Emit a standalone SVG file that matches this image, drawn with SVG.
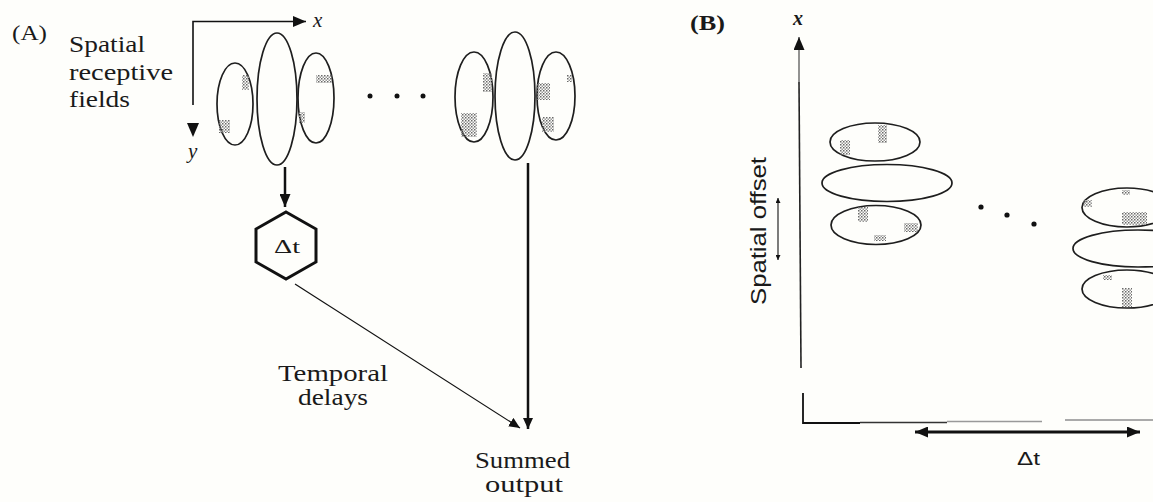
<svg xmlns="http://www.w3.org/2000/svg" width="1153" height="502" viewBox="0 0 1153 502">
<defs>
<style>
.serif{font-family:"Liberation Serif","Times New Roman",serif;fill:#1a1a1a;}
.sans{font-family:"Liberation Sans",Arial,sans-serif;fill:#1a1a1a;}
.rf{fill:none;stroke:#1e1e1e;stroke-width:1.7;}
.st{fill:url(#stip);}
.ln{fill:none;stroke:#111;}
</style>
<pattern id="stip" width="3" height="3" patternUnits="userSpaceOnUse">
<rect width="1.5" height="1.5" fill="#6a6a6a"/>
<rect x="1.5" y="1.5" width="1.5" height="1.5" fill="#9a9a9a"/>
</pattern>
<marker id="ah" markerUnits="userSpaceOnUse" markerWidth="13" markerHeight="11" refX="13" refY="5.5" orient="auto-start-reverse">
<path d="M0,0 L13,5.5 L0,11 Z" fill="#111"/>
</marker>
<marker id="ahs" markerUnits="userSpaceOnUse" markerWidth="11" markerHeight="10" refX="11" refY="5" orient="auto">
<path d="M0,0 L11,5 L0,10 Z" fill="#111"/>
</marker>
<marker id="aht" markerUnits="userSpaceOnUse" markerWidth="5" markerHeight="5" refX="5" refY="2.5" orient="auto-start-reverse">
<path d="M0,0 L5,2.5 L0,5 Z" fill="#111"/>
</marker>
</defs>
<rect width="1153" height="502" fill="#fefefb"/>

<!-- Panel A -->
<g id="label-A"><text class="serif" x="12" y="40" font-size="22" textLength="35" lengthAdjust="spacingAndGlyphs">(A)</text></g>
<g id="label-spatial-rf">
<text class="serif" x="69" y="52" font-size="23" textLength="76" lengthAdjust="spacingAndGlyphs">Spatial</text>
<text class="serif" x="69" y="80" font-size="23" textLength="104" lengthAdjust="spacingAndGlyphs">receptive</text>
<text class="serif" x="69" y="107" font-size="23" textLength="61" lengthAdjust="spacingAndGlyphs">fields</text>
</g>
<g id="axes-A">
<path class="ln" d="M193,105 V21.5 H306" stroke-width="1.6" marker-end="url(#ah)"/>
<path d="M187,123 L199,123 L193,137 Z" fill="#111"/>
<text class="serif" x="313" y="27" font-size="21" font-style="italic">x</text>
<text class="serif" x="188" y="158" font-size="21" font-style="italic">y</text>
</g>
<g id="rf-group-1">
<ellipse class="rf" cx="235" cy="104" rx="18" ry="41"/>
<ellipse class="rf" cx="277" cy="99" rx="20" ry="66"/>
<ellipse class="rf" cx="316" cy="98" rx="18" ry="45"/>
<rect class="st" x="242" y="75" width="7" height="15"/>
<rect class="st" x="219" y="120" width="11" height="13"/>
<rect class="st" x="316" y="75" width="16" height="8"/>
<rect class="st" x="299" y="112" width="6" height="11"/>
</g>
<g id="dots-A">
<circle cx="370" cy="96" r="2.5" fill="#111"/>
<circle cx="397" cy="96" r="2.5" fill="#111"/>
<circle cx="423" cy="96" r="2.5" fill="#111"/>
</g>
<g id="rf-group-2">
<ellipse class="rf" cx="474" cy="97" rx="19" ry="45"/>
<ellipse class="rf" cx="515" cy="96" rx="20" ry="64"/>
<ellipse class="rf" cx="556" cy="96" rx="19" ry="44"/>
<rect class="st" x="483" y="73" width="9" height="19"/>
<rect class="st" x="461" y="113" width="16" height="24"/>
<rect class="st" x="537" y="83" width="13" height="17"/>
<rect class="st" x="542" y="117" width="12" height="15"/>
<rect class="st" x="567" y="75" width="5" height="7"/>
</g>
<g id="delay">
<polygon points="286,212 316,229 316,262 286,279 256,262 256,229" fill="none" stroke="#111" stroke-width="3"/>
<text class="serif" x="274" y="253" font-size="18" textLength="26" lengthAdjust="spacingAndGlyphs">Δt</text>
</g>
<g id="label-temporal">
<text class="serif" x="278" y="381" font-size="23" textLength="110" lengthAdjust="spacingAndGlyphs">Temporal</text>
<text class="serif" x="298" y="405" font-size="23" textLength="70" lengthAdjust="spacingAndGlyphs">delays</text>
</g>
<g id="label-summed">
<text class="serif" x="475" y="468" font-size="23" textLength="95" lengthAdjust="spacingAndGlyphs">Summed</text>
<text class="serif" x="485" y="492" font-size="23" textLength="78" lengthAdjust="spacingAndGlyphs">output</text>
</g>

<!-- Panel B -->
<g id="label-B"><text class="serif" x="690" y="30" font-size="22" font-weight="bold" textLength="35" lengthAdjust="spacingAndGlyphs">(B)</text></g>
<g id="axes-B">
<path d="M799,82 V37" stroke="#777" stroke-width="1.6" fill="none" marker-end="url(#ah)"/>
<path d="M799,82 L801,368" stroke="#222" stroke-width="1.6" fill="none"/>
<path d="M803,393 V423 H860" stroke="#111" stroke-width="1.8" fill="none"/>
<path d="M860,422.5 H947" stroke="#333" stroke-width="1.3" fill="none"/>
<path d="M947,421.5 H1042" stroke="#999" stroke-width="1.6" fill="none"/>
<path d="M1065,420 H1153" stroke="#aaa" stroke-width="1.8" fill="none"/>
<text class="serif" x="793" y="25" font-size="20" font-style="italic" font-weight="bold">x</text>
</g>
<g id="label-spatial-offset">
<text class="sans" transform="translate(766,305) rotate(-90)" x="0" y="0" font-size="22" textLength="148" lengthAdjust="spacingAndGlyphs">Spatial offset</text>
</g>
<g id="rf-B-1">
<ellipse class="rf" cx="875" cy="142" rx="45" ry="19"/>
<ellipse class="rf" cx="887" cy="183" rx="65" ry="18.5"/>
<ellipse class="rf" cx="876" cy="225" rx="45" ry="19.5"/>
<rect class="st" x="840" y="140" width="10" height="15"/>
<rect class="st" x="878" y="125" width="9" height="18"/>
<rect class="st" x="858" y="207" width="10" height="15"/>
<rect class="st" x="904" y="223" width="14" height="9"/>
<rect class="st" x="874" y="235" width="12" height="6"/>
</g>
<g id="dots-B">
<circle cx="981" cy="207" r="2.6" fill="#111"/>
<circle cx="1007" cy="215" r="2.6" fill="#111"/>
<circle cx="1034" cy="224" r="2.6" fill="#111"/>
</g>
<g id="rf-B-2">
<ellipse class="rf" cx="1127" cy="207.5" rx="45" ry="19.5"/>
<ellipse class="rf" cx="1138" cy="248.5" rx="65" ry="18.5"/>
<ellipse class="rf" cx="1127" cy="289" rx="45" ry="19"/>
<rect class="st" x="1122" y="190" width="8" height="5"/>
<rect class="st" x="1122" y="212" width="25" height="13"/>
<rect class="st" x="1083" y="200" width="9" height="7"/>
<rect class="st" x="1122" y="288" width="10" height="19"/>
<rect class="st" x="1103" y="275" width="9" height="5"/>
</g>
<g id="label-dt-B">
<text class="sans" x="1017" y="465" font-size="19" textLength="23" lengthAdjust="spacingAndGlyphs">Δt</text>
</g>

<!-- Connectors -->
<g id="connectors">
<path class="ln" d="M285,167 V207" stroke-width="2.5" marker-end="url(#ah)"/>
<path class="ln" d="M295,284 L520,428" stroke-width="1.2" marker-end="url(#ahs)"/>
<path class="ln" d="M528,163 V429" stroke-width="2.5" marker-end="url(#ahs)"/>
<path class="ln" d="M915,432 H1140" stroke-width="3" marker-start="url(#ah)" marker-end="url(#ah)"/>
<path class="ln" d="M778,198 V260" stroke-width="1.1" marker-start="url(#aht)" marker-end="url(#aht)"/>
</g>
</svg>
